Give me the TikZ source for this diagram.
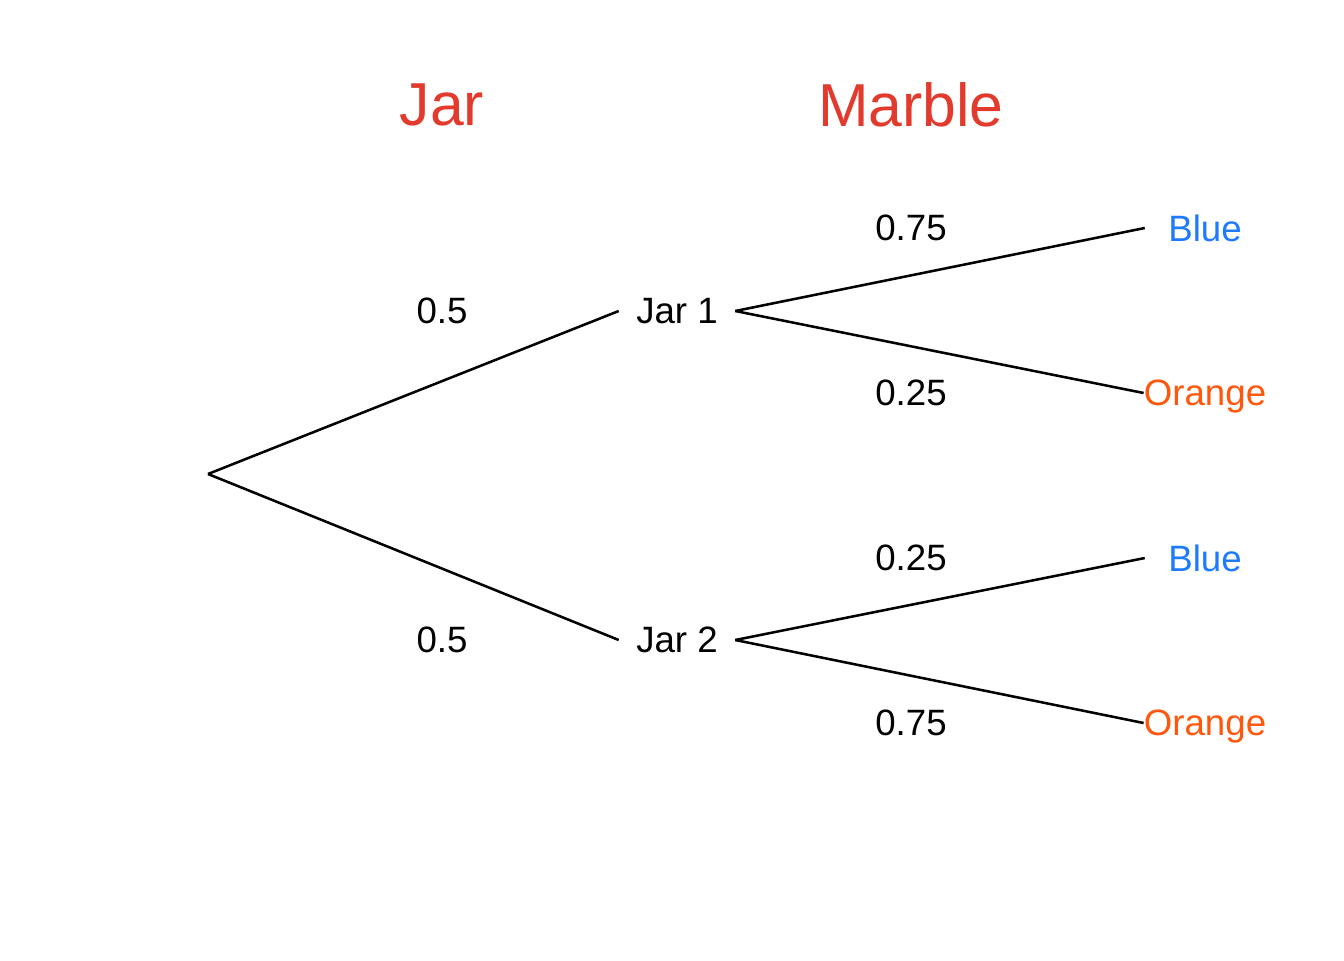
\documentclass[tikz,border=0pt]{standalone}
\usepackage{fontspec}
\setmainfont{Liberation Sans}
\definecolor{titlered}{RGB}{226,58,44}
\definecolor{leafblue}{RGB}{30,122,255}
\definecolor{leaforange}{RGB}{255,88,12}
\begin{document}
\begin{tikzpicture}[x=0.75pt,y=-0.75pt,
  branch/.style={line width=1.9pt,black},
  title/.style={text=titlered,font=\fontsize{45.5}{50}\selectfont,inner sep=0pt},
  lbl/.style={font=\fontsize{27.5}{30}\selectfont,inner sep=0pt,text depth=0pt},
  jarnode/.style={lbl,minimum width=87pt,align=center},
  leaf/.style={lbl,minimum width=90pt,align=center}]
\useasboundingbox (0,0) rectangle (1344,960);
\fill[white] (0,0) rectangle (1344,960);
\node[title] (tjar) at (442,105) {Jar};
\node[title] (tmarble) at (911,105) {Marble};
\coordinate (root) at (208,474);
\node[jarnode] (jar1) at (677,311) {Jar 1};
\node[jarnode] (jar2) at (677,640) {Jar 2};
\node[leaf,text=leafblue] (b1) at (1205,228) {Blue};
\node[leaf,text=leaforange] (o1) at (1205,393) {Orange};
\node[leaf,text=leafblue] (b2) at (1205,558) {Blue};
\node[leaf,text=leaforange] (o2) at (1205,723) {Orange};
\draw[branch] (root) -- (jar1.west);
\draw[branch] (root) -- (jar2.west);
\draw[branch] (jar1.east) -- (b1.west);
\draw[branch] (jar1.east) -- (o1.west);
\draw[branch] (jar2.east) -- (b2.west);
\draw[branch] (jar2.east) -- (o2.west);
\node[lbl] (p1) at (442,311) {0.5};
\node[lbl] (p2) at (442,640) {0.5};
\node[lbl] (p11) at (911,228) {0.75};
\node[lbl] (p12) at (911,393) {0.25};
\node[lbl] (p21) at (911,558) {0.25};
\node[lbl] (p22) at (911,723) {0.75};
\end{tikzpicture}
\end{document}
